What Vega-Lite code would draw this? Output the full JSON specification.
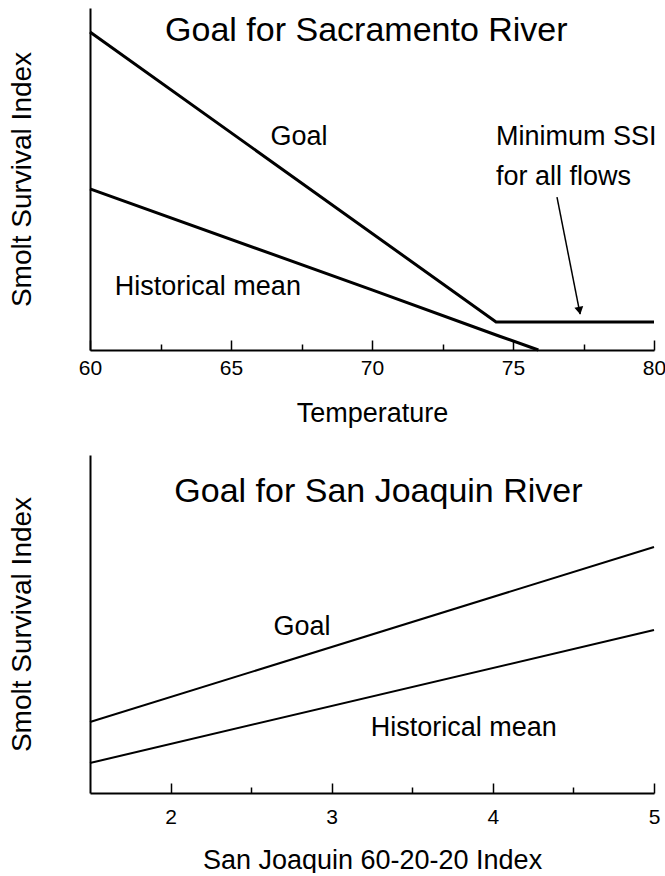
{
  "$schema": "https://vega.github.io/schema/vega-lite/v6.json",
  "padding": {"left": 8, "top": 8, "right": 0, "bottom": 0},
  "background": "white",
  "spacing": 105,
  "bounds": "flush",
  "config": {
    "font": "Liberation Sans",
    "view": {"stroke": null},
    "axis": {"domainColor": "black", "domainWidth": 2, "tickColor": "black", "tickWidth": 1.5, "labelColor": "black", "titleColor": "black", "grid": false, "titleFontWeight": "normal", "labelFont": "Liberation Sans", "titleFont": "Liberation Sans", "labelFlush": false, "labelOverlap": false},
    "text": {"font": "Liberation Sans", "color": "black"}
  },
  "datasets": {
    "sac": [
      {"T": 60, "SSI": 93.0, "series": "Goal"},
      {"T": 74.4, "SSI": 8.2, "series": "Goal"},
      {"T": 80, "SSI": 8.2, "series": "Goal"},
      {"T": 60, "SSI": 47.1, "series": "Historical mean"},
      {"T": 70, "SSI": 17.6, "series": "Historical mean"},
      {"T": 74.5, "SSI": 4.1, "series": "Historical mean"},
      {"T": 75.9, "SSI": 0, "series": "Historical mean"}
    ],
    "sacLabelsC": [
      {"T": 67.41, "SSI": 62.3, "text": "Goal"},
      {"T": 64.18, "SSI": 18.4, "text": "Historical mean"}
    ],
    "sacLabelsL": [
      {"T": 74.4, "SSI": 62.3, "text": "Minimum SSI"},
      {"T": 74.4, "SSI": 50.6, "text": "for all flows"}
    ],
    "sacTitle": [{"T": 69.8, "SSI": 93.3, "text": "Goal for Sacramento River"}],
    "arrow": [{"T": 76.56, "SSI": 44.7, "T2": 77.38, "SSI2": 10.5}],
    "arrowHead": [{"T": 77.36, "SSI": 11.5}],
    "sj": [
      {"I": 1.5, "SSI": 21.0, "series": "Goal"},
      {"I": 5, "SSI": 72.8, "series": "Goal"},
      {"I": 1.5, "SSI": 8.9, "series": "Historical mean"},
      {"I": 5, "SSI": 48.2, "series": "Historical mean"}
    ],
    "sjLabels": [
      {"I": 2.816, "SSI": 49.1, "text": "Goal"},
      {"I": 3.82, "SSI": 19.2, "text": "Historical mean"}
    ],
    "sjTitle": [{"I": 3.29, "SSI": 89.1, "text": "Goal for San Joaquin River"}]
  },
  "vconcat": [
    {
      "width": 564,
      "height": 342,
      "encoding": {
        "x": {"field": "T", "type": "quantitative", "scale": {"domain": [60, 80], "nice": false, "zero": false},
          "axis": {"title": "Temperature", "titleFontSize": 27, "titlePadding": 18, "labelFontSize": 21, "labelPadding": 17,
            "values": [60, 62.5, 65, 67.5, 70, 72.5, 75, 77.5, 80],
            "labelExpr": "datum.value % 5 == 0 ? format(datum.value, 'd') : ''",
            "tickSize": {"condition": {"test": "datum.value % 5 == 0", "value": -10}, "value": -6}}},
        "y": {"field": "SSI", "type": "quantitative", "scale": {"domain": [0, 100], "nice": false},
          "axis": {"title": "Smolt Survival Index", "titleFontSize": 28, "titlePadding": 54, "ticks": false, "labels": false}}
      },
      "layer": [
        {"data": {"name": "sac"}, "mark": {"type": "line", "color": "black", "strokeWidth": 3}, "encoding": {"detail": {"field": "series"}}},
        {"data": {"name": "sacLabelsC"}, "mark": {"type": "text", "fontSize": 27, "align": "center", "baseline": "middle"}, "encoding": {"text": {"field": "text"}}},
        {"data": {"name": "sacLabelsL"}, "mark": {"type": "text", "fontSize": 27, "align": "left", "baseline": "middle"}, "encoding": {"text": {"field": "text"}}},
        {"data": {"name": "sacTitle"}, "mark": {"type": "text", "fontSize": 34, "align": "center", "baseline": "middle"}, "encoding": {"text": {"field": "text"}}},
        {"data": {"name": "arrow"}, "mark": {"type": "rule", "color": "black", "strokeWidth": 1.5}, "encoding": {"x2": {"field": "T2"}, "y2": {"field": "SSI2"}}},
        {"data": {"name": "arrowHead"}, "mark": {"type": "point", "shape": "triangle-down", "filled": true, "color": "black", "opacity": 1, "size": 80, "angle": 349}, "encoding": {}}
      ]
    },
    {
      "width": 564,
      "height": 338,
      "encoding": {
        "x": {"field": "I", "type": "quantitative", "scale": {"domain": [1.5, 5], "nice": false, "zero": false},
          "axis": {"title": "San Joaquin 60-20-20 Index", "titleFontSize": 27, "titlePadding": 16, "labelFontSize": 21, "labelPadding": 23,
            "values": [2, 2.5, 3, 3.5, 4, 4.5, 5],
            "labelExpr": "datum.value % 1 == 0 ? format(datum.value, 'd') : ''",
            "tickSize": {"condition": {"test": "datum.value % 1 == 0", "value": -10}, "value": -6}}},
        "y": {"field": "SSI", "type": "quantitative", "scale": {"domain": [0, 100], "nice": false},
          "axis": {"title": "Smolt Survival Index", "titleFontSize": 28, "titlePadding": 54, "ticks": false, "labels": false}}
      },
      "layer": [
        {"data": {"name": "sj"}, "mark": {"type": "line", "color": "black", "strokeWidth": 2}, "encoding": {"detail": {"field": "series"}}},
        {"data": {"name": "sjLabels"}, "mark": {"type": "text", "fontSize": 27, "align": "center", "baseline": "middle"}, "encoding": {"text": {"field": "text"}}},
        {"data": {"name": "sjTitle"}, "mark": {"type": "text", "fontSize": 34, "align": "center", "baseline": "middle"}, "encoding": {"text": {"field": "text"}}}
      ]
    }
  ]
}
